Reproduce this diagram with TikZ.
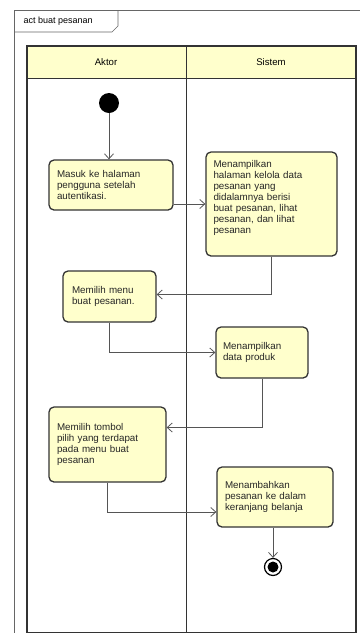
\documentclass[tikz,border=0pt]{standalone}
\usepackage{fontspec}
\setmainfont{Liberation Sans}
\usetikzlibrary{arrows.meta}
\definecolor{actfill}{HTML}{FFFFCC}
\definecolor{actline}{HTML}{333333}
\definecolor{flowline}{HTML}{555555}
\begin{document}
\begin{tikzpicture}[x=1pt,y=-1pt,
  act/.style={draw=actline,line width=1.3pt,fill=actfill,rounded corners=5pt,
    align=left,inner xsep=0pt,font=\fontsize{9.8}{11}\selectfont,text=black!85},
  flow/.style={draw=flowline,line width=0.8pt,-{Straight Barb[length=5pt,width=9pt]}},
  startnode/.style={circle,fill=black,minimum size=20pt,inner sep=0pt},
  endnode/.style={circle,draw=black,line width=1.2pt,minimum size=17pt,inner sep=0pt,
    path picture={\fill[black] (path picture bounding box.center) circle (5.5pt);}}]
 \useasboundingbox (0,0) rectangle (360,633);
 % frame and tab
 \draw[gray!80!black,line width=0.6pt](14,633)--(14,10)--(360,10);
 \draw[gray!80!black,line width=0.6pt](14,32)--(112,32)--(118,26)--(118,10);
 \node[font=\fontsize{9}{11}\selectfont,anchor=west] (title) at (20,21) {act buat pesanan};
 % swimlanes
 \fill[actfill](27,46) rectangle (356,78);
 \draw[actline,line width=1.2pt](27,46) rectangle (356,633);
 \draw[actline,line width=0.9pt](27,78)--(356,78);
 \draw[actline,line width=0.9pt](186,46)--(186,633);
 \node[font=\fontsize{9.6}{11}\selectfont] (lane1) at (106,62) {Aktor};
 \node[font=\fontsize{9.6}{11}\selectfont] (lane2) at (271,62) {Sistem};
 % actions
 \node[startnode] (start) at (109,103) {};
 \node[act,minimum width=124pt,minimum height=50pt,text width=108pt] (box1) at (111,185)
  {Masuk ke halaman\\pengguna setelah\\autentikasi.};
 \node[act,minimum width=131pt,minimum height=104pt,text width=116pt] (box2) at (271.5,204)
  {Menampilkan\\halaman kelola data\\pesanan yang\\didalamnya berisi\\buat pesanan, lihat\\pesanan, dan lihat\\pesanan\\[3pt]\mbox{}};
 \node[act,minimum width=93pt,minimum height=51pt,text width=75pt] (box3) at (109.5,296.5)
  {Memilih menu\\buat pesanan.};
 \node[act,minimum width=92pt,minimum height=51pt,text width=78pt] (box4) at (262,352.5)
  {Menampilkan\\data produk};
 \node[act,minimum width=117pt,minimum height=75pt,text width=101pt] (box5) at (107.5,444.5)
  {Memilih tombol\\pilih yang terdapat\\pada menu buat\\pesanan};
 \node[act,minimum width=116pt,minimum height=60pt,text width=100pt] (box6) at (275,497)
  {Menambahkan\\pesanan ke dalam\\keranjang belanja};
 \node[endnode] (end) at (273,567) {};
 % flows
 \draw[flow](start)--(start |- box1.north);
 \draw[flow](box1.east |- box2.west)--(box2.west);
 \draw[flow](box2.south)|-([yshift=2pt]box3.east);
 \draw[flow](box3.south)|-(box4.west);
 \draw[flow](box4.south)|-([yshift=17pt]box5.east);
 \draw[flow](box5.south)|-([yshift=-15pt]box6.west);
 \draw[flow](box6.south -| end)--(end);
\end{tikzpicture}
\end{document}
